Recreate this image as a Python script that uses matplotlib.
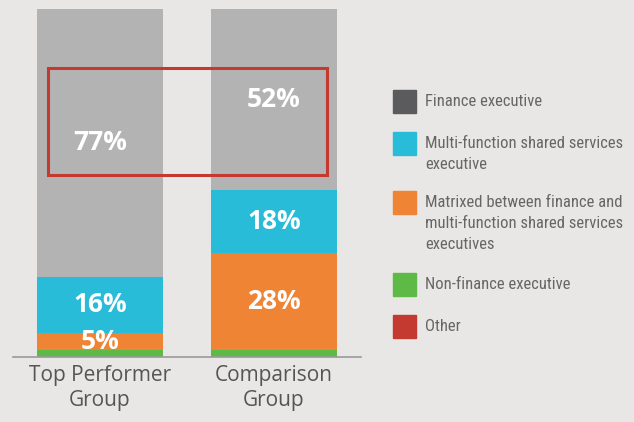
import matplotlib.pyplot as plt
from matplotlib.patches import Rectangle

groups = ["Top Performer\nGroup", "Comparison\nGroup"]
non_finance = [2, 2]
matrixed = [5, 28]
multi_function = [16, 18]
finance = [77, 52]
show_label = [False, True, True, True]

legend_labels = [
    "Finance executive",
    "Multi-function shared services\nexecutive",
    "Matrixed between finance and\nmulti-function shared services\nexecutives",
    "Non-finance executive",
    "Other",
]
legend_colors = ["#5b5b5e", "#29bcd9", "#ee8434", "#5eba47", "#c43a30"]
# legend square tops in pixels from the top of the figure
legend_tops = [90, 132, 191, 273, 315]

bg = "#e8e7e5"
seg_colors = ["#5eba47", "#ee8434", "#29bcd9", "#b3b3b3"]

W, H = 634, 422
fig = plt.figure(figsize=(W / 100, H / 100), dpi=100, facecolor=bg)
ax = fig.add_axes([13 / W, (H - 357) / H, 348 / W, 348 / H], facecolor=bg)

x = range(len(groups))
bottom = [0, 0]
for vals, color, lab in zip([non_finance, matrixed, multi_function, finance],
                            seg_colors, show_label):
    bars = ax.bar(x, vals, bottom=bottom, width=0.724, color=color, linewidth=0)
    if lab:
        for b, v, b0 in zip(bars, vals, bottom):
            ax.text(b.get_x() + b.get_width() / 2, b0 + v / 2, f"{v}%",
                    ha="center", va="center", color="white",
                    fontsize=19, fontweight="bold", family="Open Sans")
    bottom = [a + v for a, v in zip(bottom, vals)]

ax.set_xlim(-0.5, 1.5)
ax.set_ylim(0, 100)
ax.set_yticks([])
ax.set_xticks(list(x))
ax.set_xticklabels(groups, fontsize=15, color="#555555", family="Open Sans")
ax.tick_params(axis="x", length=0, pad=6)
for s in ["top", "left", "right"]:
    ax.spines[s].set_visible(False)
ax.spines["bottom"].set_color("#9a9a9a")
ax.spines["bottom"].set_linewidth(1.2)

# highlight box around the finance executive shares
ax.add_patch(Rectangle((-0.299, 52.3), 1.604, 30.7, fill=False,
                       edgecolor="#c43a30", linewidth=2.2, clip_on=False))

# legend
for lab, col, top in zip(legend_labels, legend_colors, legend_tops):
    fig.patches.append(Rectangle((393 / W, (H - top - 23) / H), 23 / W, 23 / H,
                                 transform=fig.transFigure, color=col))
    fig.text(425 / W, (H - top - 4) / H, lab, ha="left", va="top",
             fontsize=12, color="#666666", linespacing=1.5,
             family="Roboto Condensed")

fig.savefig("out.png", dpi=100, facecolor=bg)
